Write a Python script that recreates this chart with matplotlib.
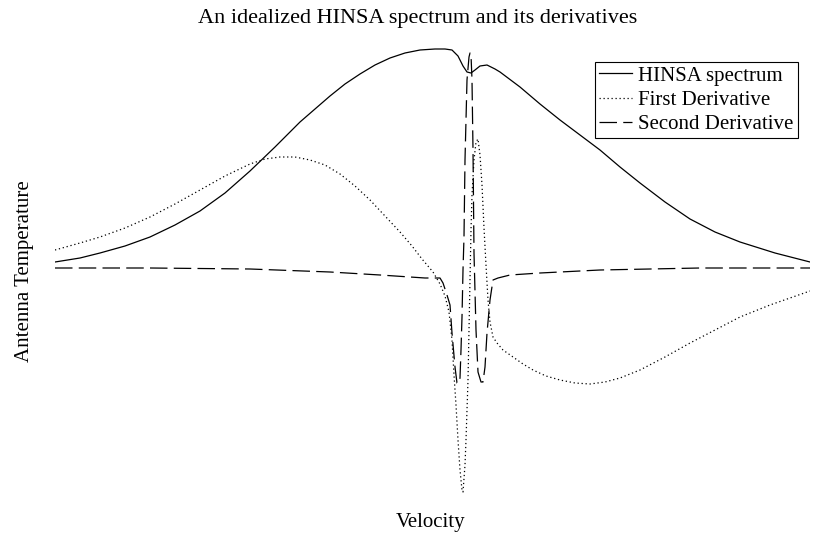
import matplotlib
matplotlib.use("Agg")
import matplotlib.pyplot as plt
import numpy as np

plt.rcParams['font.family'] = ['Liberation Serif', 'DejaVu Serif']

# values (velocity and temperature in arbitrary units)
spec_v = [-377, -352, -332, -307, -282, -257, -232, -207, -182, -157, -132,
          -117, -102, -87, -72, -57, -42, -27, -12, 3, 13, 20, 26, 31, 35,
          39, 43, 48, 55, 63, 68, 88, 108, 128, 148, 168, 188, 208, 233,
          258, 283, 308, 343, 378]
spec_t = [8, 12, 17, 24, 33, 45, 59, 77, 99, 123, 148, 161, 174, 186, 196,
          205, 212, 217, 220, 221, 221, 220, 214, 204, 198, 197, 200, 204,
          205, 201, 198, 183, 166, 150, 135, 120, 103, 87, 68, 51, 38, 28,
          17, 8]

d1_v = [-377, -352, -332, -307, -282, -257, -232, -207, -182, -167, -152,
        -137, -122, -107, -92, -77, -62, -47, -32, -20, -10, 1, 8, 13, 17,
        20, 22, 24, 26, 28, 30, 31, 33, 34, 35, 36, 37, 38, 39, 40, 42, 44,
        46, 48, 50, 52, 54, 56, 58, 61, 65, 71, 81, 91, 101, 114, 128, 143,
        158, 173, 188, 208, 233, 258, 283, 308, 338, 378]
d1_t = [20, 27, 33, 42, 53, 66, 80, 94, 106, 111, 113, 113, 110, 105, 96,
        84, 70, 54, 38, 24, 11, -2, -14, -26, -42, -70, -105, -135, -170,
        -200, -220, -222, -195, -170, -140, -110, -60, -10, 40, 75, 110, 128,
        131, 115, 85, 42, 5, -30, -52, -67, -73, -80, -87, -94, -100, -106,
        -110, -113, -114, -112, -108, -100, -87, -73, -60, -47, -35, -21]

d2_v = [-377, -282, -182, -102, -52, -22, -7, 8, 11, 15, 18, 20, 23, 25, 27,
        28, 29, 30, 31, 32, 33, 35, 37, 38, 39, 40, 41, 42, 44, 46, 49, 51,
        53, 55, 58, 61, 66, 78, 108, 168, 268, 378]
d2_t = [2, 2, 1, -2, -5, -7, -8, -8, -13, -25, -35, -63, -97, -113, -113,
        -108, -80, -47, 0, 33, 110, 190, 213, 217, 215, 190, 120, 17, -60,
        -102, -112, -112, -97, -63, -30, -10, -8, -5, -3, 0, 2, 2]

fig = plt.figure(figsize=(8.3, 5.52), dpi=100)
W, H = 830, 552
ax = fig.add_axes([55 / W, 1 - 500 / H, 755 / W, 460 / H])

ax.plot(spec_v, spec_t, color="black", lw=0.9, label="HINSA spectrum")
ax.plot(d1_v, d1_t, color="black", lw=0.9, dashes=(1, 2.2),
        label="First Derivative")
ax.plot(d2_v, d2_t, color="black", lw=0.9, dashes=(14, 5),
        label="Second Derivative")

ax.set_xlim(-377, 378)
ax.set_ylim(-230, 230)
ax.axis("off")

leg = ax.legend(loc="upper right", bbox_to_anchor=(798 / W, 1 - 62 / H),
                bbox_transform=fig.transFigure, borderaxespad=0,
                fancybox=False, framealpha=1, edgecolor="black",
                fontsize=15, handlelength=1.6, handletextpad=0.3,
                labelspacing=0.22, borderpad=0.2)
leg.get_frame().set_linewidth(0.8)

fig.text(418 / W, 1 - 18 / H, "An idealized HINSA spectrum and its derivatives",
         ha="center", va="center", fontsize=16)
fig.text(431 / W, 1 - 523 / H, "Velocity", ha="center", va="center",
         fontsize=15)
fig.text(24 / W, 1 - 271 / H, "Antenna Temperature", ha="center",
         va="center", rotation=90, fontsize=15)

fig.savefig("out.png", dpi=100)
